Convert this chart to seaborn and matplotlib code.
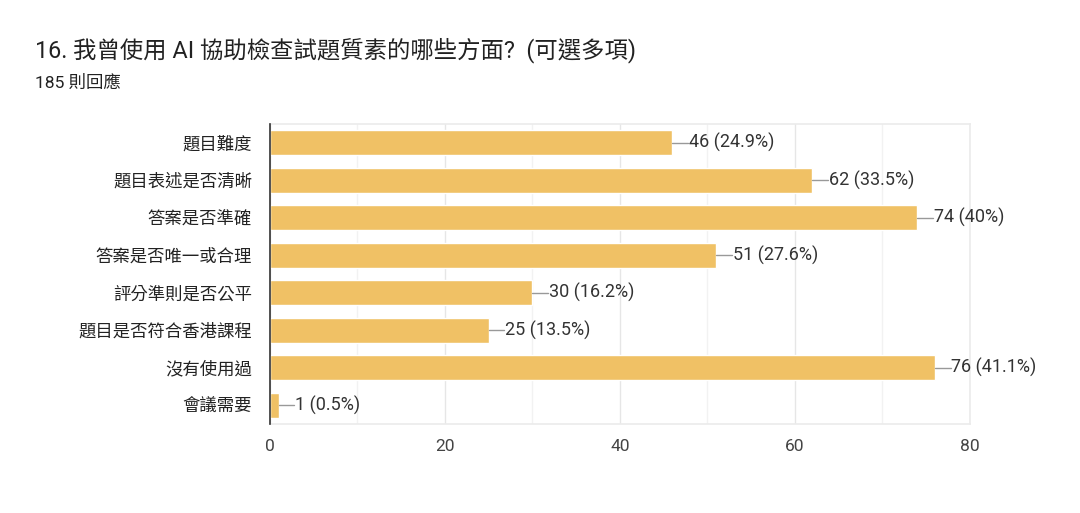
import numpy as np
import pandas as pd
import matplotlib
matplotlib.use("Agg")
import matplotlib.pyplot as plt
import seaborn as sns

# data
categories = ['題目難度', '題目表述是否清晰', '答案是否準確', '答案是否唯一或合理',
              '評分準則是否公平', '題目是否符合香港課程', '沒有使用過', '會議需要']
counts = [46, 62, 74, 51, 30, 25, 76, 1]
percents = ['24.9%', '33.5%', '40%', '27.6%', '16.2%', '13.5%', '41.1%', '0.5%']
title = '16. 我曾使用 AI 協助檢查試題質素的哪些方面?  (可選多項)'
subtitle = '185 則回應'

df = pd.DataFrame({'category': categories, 'count': counts})

sns.set_theme(style='white')
plt.rcParams['font.family'] = ['Roboto', 'Noto Sans CJK TC', 'DejaVu Sans']

fig = plt.figure(figsize=(10.8, 5.13), dpi=100)
ax = fig.add_axes([0.25, 0.1735, 0.648, 0.585])

sns.barplot(data=df, y='category', x='count', orient='h', color='#F0C165',
            saturation=1, width=0.66, ax=ax, zorder=3)

ax.set_xlim(0, 80)
ax.set_ylim(len(categories) - 0.5, -0.5)
ax.set_xticks([0, 20, 40, 60, 80])
ax.set_xticks([10, 30, 50, 70], minor=True)
ax.grid(axis='x', which='major', color='#E6E6E6', linewidth=1, zorder=0)
ax.grid(axis='x', which='minor', color='#F2F2F2', linewidth=1, zorder=0)
ax.set_xlabel('')
ax.set_ylabel('')
ax.tick_params(axis='x', which='both', length=0, labelsize=12.5, colors='#444444', pad=11)
ax.tick_params(axis='y', length=0, labelsize=12.5, colors='#222222', pad=13)

for side in ['top', 'right', 'bottom']:
    ax.spines[side].set_color('#EBEBEB')
    ax.spines[side].set_linewidth(1.2)
ax.spines['left'].set_color('#333333')
ax.spines['left'].set_linewidth(1.2)
ax.spines['left'].set_zorder(5)

# leader lines and value labels
for i, (c, p) in enumerate(zip(counts, percents)):
    ax.plot([c, c + 1.8], [i, i], color='#999999', linewidth=1, zorder=4, clip_on=False)
    ax.text(c + 1.9, i, f'{c} ({p})', va='center', ha='left', fontsize=13,
            color='#333333')

fig.text(35 / 1080, 1 - 50 / 513, title, fontsize=16.8, color='#222222', va='center', ha='left')
fig.text(35 / 1080, 1 - 83 / 513, subtitle, fontsize=12.5, color='#222222', va='center', ha='left')

fig.savefig('out.png', dpi=100)
